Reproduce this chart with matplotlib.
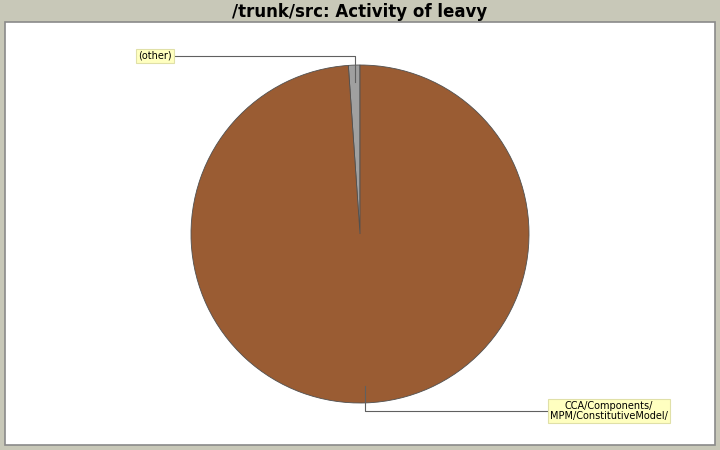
import numpy as np
import matplotlib
matplotlib.use('Agg')
import matplotlib.pyplot as plt
from matplotlib.patches import Rectangle

# data
labels = ['(other)', 'CCA/Components/\nMPM/ConstitutiveModel/']
shares = [1.1, 98.9]
colors = ['#a0a0a0', '#9a5c33']
title = '/trunk/src: Activity of leavy'

W, H = 720, 450
fig = plt.figure(figsize=(W / 100, H / 100), dpi=100, facecolor='#c8c8b8')
ax = fig.add_axes([0, 0, 1, 1])

def py(y):
    # pixel row -> data y
    return H - y

cx, cy, r = 360, py(234), 169
wedges, _ = ax.pie(shares, colors=colors, startangle=90, counterclock=True,
                   center=(cx, cy), radius=r, frame=True,
                   wedgeprops=dict(edgecolor='#505050', linewidth=0.6))
ax.set_xlim(0, W)
ax.set_ylim(0, H)
ax.set_aspect('auto')
ax.axis('off')

# white plot area
ax.add_patch(Rectangle((5, py(445)), 710, 423, facecolor='white',
                       edgecolor='#8a8a8a', lw=1.2, zorder=-1))

ax.text(360, py(12), title, ha='center', va='center',
        fontsize=12, fontweight='bold', color='black')

# label boxes (pixel positions)
label_pos = [(155, 56, 'right'), (609, 411, 'left')]
for w, lab, (lx, ly, side) in zip(wedges, labels, label_pos):
    mid = np.deg2rad((w.theta1 + w.theta2) / 2)
    ax_x = cx + 0.9 * r * np.cos(mid)
    ax_y = cy + 0.9 * r * np.sin(mid)
    t = ax.text(lx, py(ly), lab, ha='center', va='center', fontsize=7,
                linespacing=1.1, zorder=5,
                bbox=dict(boxstyle='square,pad=0.2', facecolor='#ffffc0',
                          edgecolor='#e0e0a8', lw=0.8))
    fig.canvas.draw()
    bb = t.get_bbox_patch().get_window_extent().transformed(ax.transData.inverted())
    edge_x = bb.x1 if side == 'right' else bb.x0
    ax.plot([ax_x, ax_x, edge_x], [ax_y, py(ly), py(ly)], color='#606060',
            lw=0.8, zorder=4)

fig.savefig('out.png', dpi=100, facecolor=fig.get_facecolor())
